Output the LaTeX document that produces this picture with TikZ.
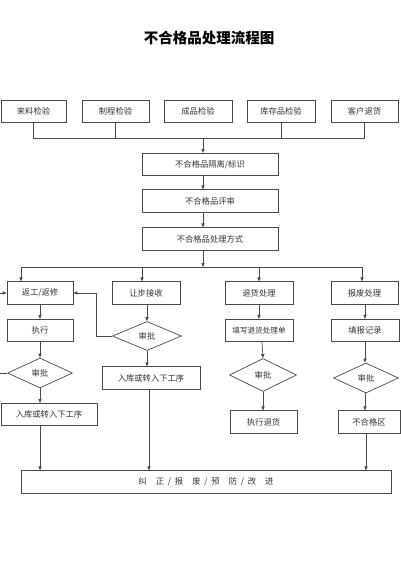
\documentclass[tikz,border=0pt]{standalone}
\usepackage{fontspec}
\newfontfamily\cjk{Noto Sans CJK SC}
\usetikzlibrary{arrows.meta,shapes.geometric}
\definecolor{linec}{HTML}{4A4A4A}
\definecolor{txtc}{HTML}{333333}
\begin{document}
\begin{tikzpicture}[x=1pt,y=-1pt,
  every node/.style={text=txtc},
  boxn/.style={draw=linec, line width=0.7pt, inner sep=0pt, minimum height=22.5pt,
    font=\cjk\fontsize{8.3}{9}\selectfont},
  dia/.style={draw=linec, line width=0.7pt, diamond, inner sep=0pt, aspect=2.2,
    font=\cjk\fontsize{8.3}{9}\selectfont},
  ln/.style={draw=linec, line width=0.7pt},
  arr/.style={ln, -{Triangle[length=4pt,width=3.2pt]}}]
\useasboundingbox (0,0) rectangle (400,578);
\fill[white] (0,0) rectangle (400,578);

\node[font=\cjk\bfseries\fontsize{14.5}{16}\selectfont, text=black] (title) at (209,38) {不合格品处理流程图};

% top row
\node[boxn, minimum width=65pt] (t1) at (33.5,111.5) {来料检验};
\node[boxn, minimum width=67pt] (t2) at (115.5,111.5) {制程检验};
\node[boxn, minimum width=68pt] (t3) at (198,111.5) {成品检验};
\node[boxn, minimum width=68pt] (t4) at (281,111.5) {库存品检验};
\node[boxn, minimum width=67pt] (t5) at (364.5,111.5) {客户退货};

\coordinate (hb) at (0,138);
\coordinate (cx) at (203,0);
\coordinate (dl) at (0,267);

% center chain
\node[boxn, minimum width=136pt] (b1) at (210,164.5) {不合格品隔离/标识};
\node[boxn, minimum width=136pt] (b2) at (210,201) {不合格品评审};
\node[boxn, minimum width=136pt] (b3) at (210,239) {不合格品处理方式};

% row 2
\node[boxn, minimum width=66pt] (r1) at (40,293) {返工/返修};
\node[boxn, minimum width=68pt] (r2) at (146,293) {让步接收};
\node[boxn, minimum width=68pt] (r3) at (259,293) {退货处理};
\node[boxn, minimum width=67pt] (r4) at (364.5,293) {报废处理};

% row 3
\node[boxn, minimum width=66pt] (e1) at (40,330.5) {执行};
\node[boxn, minimum width=68pt, font=\cjk\fontsize{7.6}{9}\selectfont] (e3) at (259,330.5) {填写退货处理单};
\node[boxn, minimum width=68pt] (e4) at (365,330.5) {填报记录};

% diamonds
\node[dia, minimum width=65pt, minimum height=30pt] (d1) at (40,373) {审批};
\node[dia, minimum width=69pt, minimum height=29pt] (d2) at (147,336) {审批};
\node[dia, minimum width=67pt, minimum height=33pt] (d3) at (263,375) {审批};
\node[dia, minimum width=65pt, minimum height=30pt] (d4) at (366,378) {审批};

% row 4
\node[boxn, minimum width=96pt] (f1) at (49,414.5) {入库或转入下工序};
\node[boxn, minimum width=98pt] (f2) at (151,378) {入库或转入下工序};
\node[boxn, minimum width=67pt] (f3) at (263.5,422) {执行退货};
\node[boxn, minimum width=62pt] (f4) at (369,422) {不合格区};

% bottom
\node[boxn, minimum width=370pt] (g) at (206,482) {纠\hspace{1.1em}正\hspace{0.45em}/\hspace{0.45em}报\hspace{1.1em}废\hspace{0.45em}/\hspace{0.45em}预\hspace{1.1em}防\hspace{0.45em}/\hspace{0.45em}改\hspace{1.1em}进};

% top collector
\draw[ln] (t1.south) -- (t1.south |- hb) -- (t5.south |- hb) -- (t5.south);
\draw[ln] (t2.south) -- (t2.south |- hb);
\draw[ln] (t4.south) -- (t4.south |- hb);
\draw[ln] (t3.south -| cx) -- (t3.south -| cx |- hb);
\draw[arr] (cx |- hb) -- (b1.north -| cx);
\draw[arr] (b1.south -| cx) -- (b2.north -| cx);
\draw[arr] (b2.south -| cx) -- (b3.north -| cx);
\draw[arr] (b3.south -| cx) -- (cx |- dl);

% distribution
\draw[ln] ([xshift=-19pt]r1.north |- dl) -- ([xshift=-2.5pt]r4.north |- dl);
\draw[arr] ([xshift=-19pt]r1.north |- dl) -- ([xshift=-19pt]r1.north);
\draw[arr] ([xshift=-4pt]r2.north |- dl) -- ([xshift=-4pt]r2.north);
\draw[arr] (r3.north |- dl) -- (r3.north);
\draw[arr] ([xshift=-2.5pt]r4.north |- dl) -- ([xshift=-2.5pt]r4.north);

% left column
\draw[arr] (r1.south) -- (e1.north);
\draw[arr] (e1.south) -- (d1.north);
\draw[arr] (d1.south) -- (d1.south |- f1.north);
\draw[arr] (d1.south |- f1.south) -- (d1.south |- g.north);
\draw[arr] (d1.west) -- ++(-10,0) |- (r1.west);

% second column
\draw[arr] (r2.south -| d2.north) -- (d2.north);
\draw[arr] (d2.south) -- (d2.south |- f2.north);
\draw[arr] ([xshift=-2pt]f2.south) -- ([xshift=-2pt]f2.south |- g.north);
\draw[arr] (d2.west) -- ++(-16,0) |- (r1.east);

% third column
\draw[arr] (r3.south) -- (e3.north);
\draw[arr] ([xshift=3pt]e3.south) -- (d3.north);
\draw[arr] (d3.south) -- (d3.south |- f3.north);

% fourth column
\draw[arr] (r4.south -| e4.north) -- (e4.north);
\draw[arr] (e4.south) -- (e4.south |- d4.north);
\draw[arr] (d4.south -| e4.south) -- (f4.north -| e4.south);
\draw[arr] (f4.south -| d4.south) -- (g.north -| d4.south);
\end{tikzpicture}
\end{document}
